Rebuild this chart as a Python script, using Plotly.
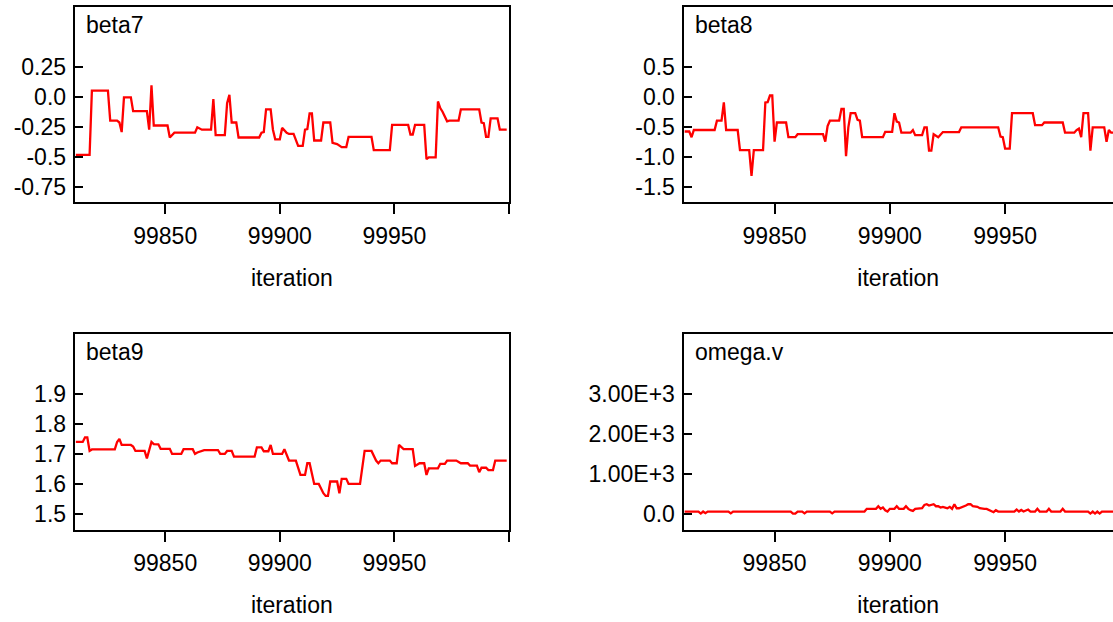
import plotly.graph_objects as go
from plotly.subplots import make_subplots

RED = "#FF0000"
BLACK = "#000000"
FONT = "Liberation Sans, Arial, sans-serif"
FS = 23
W, H = 1113, 622

beta7_iter = [99811, 99817, 99818, 99825, 99826, 99829, 99830, 99831, 99832, 99835,
              99836, 99842, 99843, 99844, 99845, 99851, 99852, 99854, 99863, 99864,
              99866, 99870, 99871, 99872, 99876, 99877, 99878, 99879, 99881, 99882,
              99891, 99892, 99893, 99894, 99896, 99897, 99898, 99900, 99901, 99903,
              99904, 99906, 99908, 99910, 99911, 99912, 99913, 99914, 99915, 99918,
              99919, 99922, 99923, 99925, 99927, 99929, 99930, 99940, 99941, 99948,
              99949, 99956, 99957, 99958, 99959, 99963, 99964, 99965, 99968, 99969,
              99970, 99971, 99973, 99974, 99978, 99979, 99987, 99988, 99989, 99990,
              99991, 99992, 99995, 99996, 99999]
beta7_vals = [-0.48, -0.48, 0.055, 0.055, -0.195, -0.195, -0.21, -0.29, 0.0, 0.0,
              -0.115, -0.115, -0.27, 0.10, -0.235, -0.235, -0.335, -0.295, -0.295, -0.25,
              -0.27, -0.27, -0.015, -0.315, -0.315, -0.05, 0.02, -0.21, -0.21, -0.335,
              -0.335, -0.295, -0.29, -0.10, -0.10, -0.27, -0.35, -0.35, -0.255, -0.295,
              -0.305, -0.305, -0.405, -0.405, -0.27, -0.265, -0.135, -0.135, -0.36, -0.36,
              -0.21, -0.21, -0.38, -0.39, -0.415, -0.415, -0.33, -0.33, -0.44, -0.44,
              -0.23, -0.23, -0.31, -0.31, -0.23, -0.23, -0.515, -0.50, -0.50, -0.035,
              -0.09, -0.12, -0.20, -0.195, -0.195, -0.10, -0.10, -0.21, -0.215, -0.33,
              -0.33, -0.175, -0.175, -0.27, -0.27]

beta8_iter = [99811, 99813, 99814, 99815, 99824, 99825, 99827, 99828, 99829, 99834,
              99835, 99839, 99840, 99841, 99845, 99846, 99847, 99848, 99849, 99850,
              99851, 99855, 99856, 99859, 99860, 99871, 99872, 99873, 99874, 99878,
              99879, 99880, 99881, 99882, 99883, 99885, 99886, 99887, 99888, 99897,
              99898, 99901, 99902, 99903, 99904, 99905, 99909, 99910, 99911, 99914,
              99915, 99916, 99917, 99918, 99919, 99920, 99921, 99923, 99930, 99931,
              99947, 99948, 99949, 99950, 99952, 99953, 99962, 99963, 99966, 99967,
              99975, 99976, 99980, 99981, 99982, 99983, 99984, 99986, 99987, 99988,
              99993, 99994, 99995, 99996, 99999]
beta8_vals = [-0.57, -0.57, -0.665, -0.545, -0.545, -0.39, -0.39, -0.085, -0.545, -0.545,
              -0.88, -0.88, -1.31, -0.88, -0.88, -0.085, -0.08, 0.03, 0.03, -0.74,
              -0.42, -0.42, -0.665, -0.665, -0.615, -0.615, -0.74, -0.48, -0.39, -0.39,
              -0.195, -0.195, -0.98, -0.50, -0.265, -0.265, -0.375, -0.39, -0.665, -0.665,
              -0.575, -0.575, -0.265, -0.405, -0.42, -0.59, -0.59, -0.545, -0.63, -0.63,
              -0.50, -0.50, -0.89, -0.89, -0.615, -0.64, -0.665, -0.58, -0.58, -0.50,
              -0.50, -0.655, -0.665, -0.855, -0.855, -0.265, -0.265, -0.465, -0.465, -0.42,
              -0.42, -0.59, -0.59, -0.545, -0.52, -0.665, -0.265, -0.265, -0.89, -0.50,
              -0.50, -0.74, -0.545, -0.59, -0.59]

beta9_iter = [99811, 99814, 99815, 99816, 99817, 99818, 99828, 99829, 99830, 99831,
              99835, 99836, 99837, 99841, 99842, 99844, 99845, 99847, 99848, 99852,
              99853, 99857, 99858, 99862, 99863, 99864, 99867, 99873, 99874, 99876,
              99877, 99879, 99880, 99889, 99890, 99892, 99893, 99895, 99896, 99897,
              99901, 99902, 99904, 99907, 99909, 99911, 99912, 99913, 99915, 99917,
              99919, 99920, 99921, 99922, 99925, 99926, 99927, 99929, 99930, 99935,
              99937, 99940, 99942, 99943, 99944, 99948, 99949, 99951, 99952, 99954,
              99958, 99959, 99961, 99963, 99964, 99965, 99969, 99970, 99972, 99973,
              99977, 99979, 99982, 99983, 99986, 99987, 99988, 99990, 99991, 99993,
              99994, 99999]
beta9_vals = [1.74, 1.74, 1.755, 1.755, 1.71, 1.715, 1.715, 1.74, 1.75, 1.73,
              1.73, 1.725, 1.71, 1.71, 1.685, 1.74, 1.733, 1.732, 1.717, 1.717,
              1.70, 1.70, 1.716, 1.716, 1.70, 1.705, 1.713, 1.713, 1.70, 1.70,
              1.71, 1.71, 1.691, 1.691, 1.722, 1.722, 1.709, 1.709, 1.73, 1.70,
              1.70, 1.716, 1.678, 1.678, 1.63, 1.63, 1.669, 1.669, 1.60, 1.60,
              1.569, 1.56, 1.56, 1.608, 1.608, 1.569, 1.617, 1.617, 1.60, 1.60,
              1.71, 1.71, 1.678, 1.669, 1.678, 1.678, 1.669, 1.669, 1.73, 1.716,
              1.716, 1.66, 1.669, 1.669, 1.63, 1.652, 1.652, 1.667, 1.667, 1.678,
              1.678, 1.669, 1.669, 1.661, 1.661, 1.639, 1.654, 1.654, 1.646, 1.646,
              1.678, 1.678]

omega_iter = [99811, 99817, 99818, 99819, 99820, 99821, 99830, 99831, 99832, 99857,
              99858, 99859, 99860, 99862, 99863, 99864, 99874, 99875, 99876, 99889,
              99890, 99891, 99892, 99893, 99894, 99895, 99896, 99897, 99898, 99899,
              99900, 99901, 99902, 99903, 99904, 99905, 99906, 99907, 99908, 99909,
              99910, 99911, 99912, 99913, 99914, 99915, 99916, 99917, 99918, 99919,
              99920, 99921, 99922, 99923, 99924, 99925, 99926, 99927, 99928, 99929,
              99930, 99931, 99932, 99933, 99934, 99935, 99936, 99937, 99938, 99939,
              99940, 99941, 99942, 99943, 99944, 99945, 99946, 99947, 99948, 99954,
              99955, 99956, 99957, 99958, 99960, 99961, 99963, 99964, 99965, 99968,
              99969, 99970, 99974, 99975, 99976, 99986, 99987, 99988, 99989, 99990,
              99991, 99992, 99999]
omega_vals = [50, 50, 0, 50, 10, 50, 50, 5, 50, 50,
              0, 0, 50, 50, 5, 50, 50, 5, 50, 50,
              117, 117, 117, 117, 117, 183, 117, 150, 83, 50,
              117, 117, 117, 183, 117, 117, 117, 183, 117, 83,
              67, 117, 117, 117, 133, 217, 233, 200, 217, 233,
              183, 183, 150, 167, 150, 133, 167, 117, 233, 133,
              133, 150, 167, 200, 233, 233, 183, 183, 167, 133,
              117, 117, 117, 83, 50, 33, 83, 50, 50, 50,
              100, 50, 90, 50, 100, 50, 50, 117, 50, 50,
              117, 50, 50, 117, 50, 50, 0, 50, 0, 50,
              0, 50, 50]

# ---- axis ticks ----
x_tickvals = [99850, 99900, 99950, 100000]
x_ticktext = ["99850", "99900", "99950", ""]
beta7_ticks = [0.25, 0.0, -0.25, -0.5, -0.75]
beta7_labels = ["0.25", "0.0", "-0.25", "-0.5", "-0.75"]
beta8_ticks = [0.5, 0.0, -0.5, -1.0, -1.5]
beta8_labels = ["0.5", "0.0", "-0.5", "-1.0", "-1.5"]
beta9_ticks = [1.9, 1.8, 1.7, 1.6, 1.5]
beta9_labels = ["1.9", "1.8", "1.7", "1.6", "1.5"]
omega_ticks = [3000, 2000, 1000, 0]
omega_labels = ["3.00E+3", "2.00E+3", "1.00E+3", "0.0"]

panels = [
    ("beta7", beta7_iter, beta7_vals, beta7_ticks, beta7_labels, [-0.875, 0.75], 1, 1),
    ("beta8", beta8_iter, beta8_vals, beta8_ticks, beta8_labels, [-1.75, 1.5], 1, 2),
    ("beta9", beta9_iter, beta9_vals, beta9_ticks, beta9_labels, [1.448, 2.1], 2, 1),
    ("omega.v", omega_iter, omega_vals, omega_ticks, omega_labels, [-400, 4500], 2, 2),
]

# pixel boxes of the four panels
col_px = {1: (74.7, 509.0), 2: (683.5, W)}
row_px = {1: (7.3, 202.3), 2: (334.0, 529.5)}
col_range = {1: [99810.5, 100000], 2: [99810.5, 99996.8]}

fig = make_subplots(rows=2, cols=2)

for name, xs, ys, tv, tt, yr, r, c in panels:
    fig.add_trace(go.Scatter(x=xs, y=ys, mode="lines", line=dict(color=RED, width=2.3),
                             showlegend=False, hoverinfo="skip"), row=r, col=c)
    x0, x1 = col_px[c]
    y0, y1 = row_px[r]
    fig.update_xaxes(domain=[x0 / W, x1 / W], range=col_range[c],
                     tickvals=x_tickvals, ticktext=x_ticktext,
                     showline=True, linecolor=BLACK, linewidth=2, mirror=True,
                     ticks="outside", ticklen=10, tickwidth=2, tickcolor=BLACK,
                     ticklabelstandoff=2,
                     showgrid=False, zeroline=False,
                     tickfont=dict(family=FONT, size=FS, color=BLACK),
                     title=dict(text="iteration", font=dict(family=FONT, size=FS, color=BLACK),
                                standoff=22),
                     row=r, col=c)
    fig.update_yaxes(domain=[1 - y1 / H, 1 - y0 / H], range=yr,
                     tickvals=tv, ticktext=tt,
                     showline=True, linecolor=BLACK, linewidth=2, mirror=(c == 1),
                     ticks="inside", ticklen=8, tickwidth=2, tickcolor=BLACK,
                     ticklabelstandoff=2,
                     showgrid=False, zeroline=False,
                     tickfont=dict(family=FONT, size=FS, color=BLACK),
                     row=r, col=c)
    fig.add_annotation(text=name, x=(x0 + 9) / W, y=1 - (y0 + 3) / H,
                       xref="paper", yref="paper", xanchor="left", yanchor="top",
                       showarrow=False, font=dict(family=FONT, size=FS, color=BLACK))

fig.update_layout(width=W, height=H, autosize=False,
                  margin=dict(l=0, r=0, t=0, b=0),
                  paper_bgcolor="white", plot_bgcolor="white",
                  font=dict(family=FONT, size=FS, color=BLACK))

# drop the browser's default 8px body margin so the figure sits at the page corner
fig.write_html("out.html", config={"displayModeBar": False},
               post_script="document.body.style.margin='0';")
